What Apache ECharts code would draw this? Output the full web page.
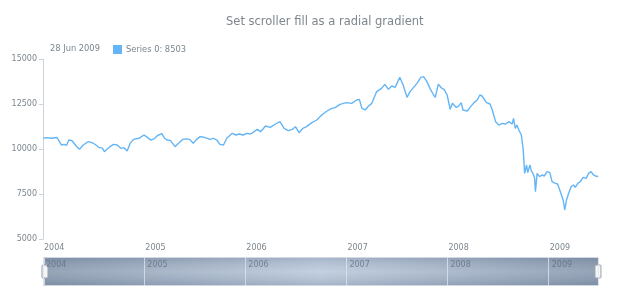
<!DOCTYPE html>
<html><head><meta charset="utf-8">
<script src="https://cdn.jsdelivr.net/npm/echarts@6/dist/echarts.min.js"></script>
<style>html,body{margin:0;padding:0;background:#fff}#c{width:620px;height:300px}</style>
</head><body><div id="c"></div>
<script>
var seriesName = 'Series 0';
var titleText = 'Set scroller fill as a radial gradient';
var yTicks = [5000, 7500, 10000, 12500, 15000];
var dates = [
'2004-01-02','2004-01-16','2004-01-30','2004-02-06','2004-02-20','2004-02-27','2004-03-08','2004-03-18','2004-03-26','2004-04-03',
'2004-04-15','2004-04-30','2004-05-12','2004-05-25','2004-06-13','2004-06-26','2004-07-08','2004-07-20','2004-08-02','2004-08-10',
'2004-08-20','2004-08-30','2004-09-12','2004-09-25','2004-10-08','2004-10-20','2004-10-31','2004-11-11','2004-11-23','2004-12-12',
'2004-12-31','2005-01-12','2005-01-24','2005-02-05','2005-02-18','2005-03-05','2005-03-15','2005-03-24','2005-04-05','2005-04-22',
'2005-04-30','2005-05-20','2005-06-05','2005-06-15','2005-06-27','2005-07-08','2005-07-22','2005-08-05','2005-08-15','2005-08-25',
'2005-09-08','2005-09-20','2005-10-01','2005-10-14','2005-10-26','2005-11-15','2005-11-28','2005-12-10','2005-12-24','2006-01-06',
'2006-01-20','2006-02-13','2006-02-25','2006-03-15','2006-04-01','2006-04-20','2006-05-06','2006-05-21','2006-06-05','2006-06-20',
'2006-07-01','2006-07-14','2006-07-28','2006-08-10','2006-08-29','2006-09-16','2006-10-04','2006-10-23','2006-11-09','2006-11-21',
'2006-12-09','2007-01-01','2007-01-20','2007-02-07','2007-02-17','2007-02-26','2007-03-10','2007-03-22','2007-04-03','2007-04-20',
'2007-05-08','2007-05-20','2007-06-02','2007-06-14','2007-06-26','2007-07-13','2007-07-25','2007-08-08','2007-08-19','2007-09-01',
'2007-09-13','2007-09-27','2007-10-07','2007-10-19','2007-10-30','2007-11-12','2007-11-18','2007-11-29','2007-12-12','2007-12-20',
'2007-12-31','2008-01-11','2008-01-19','2008-01-25','2008-02-01','2008-02-09','2008-02-20','2008-02-26','2008-03-13','2008-03-25',
'2008-04-06','2008-04-18','2008-04-27','2008-05-05','2008-05-11','2008-05-21','2008-06-03','2008-06-11','2008-06-23','2008-07-05',
'2008-07-17','2008-07-29','2008-08-10','2008-08-16','2008-08-22','2008-08-27','2008-09-02','2008-09-08','2008-09-15','2008-09-24',
'2008-10-01','2008-10-06','2008-10-13','2008-10-17','2008-10-25','2008-10-30','2008-11-06','2008-11-11','2008-11-14','2008-11-20',
'2008-11-29','2008-12-08','2008-12-16','2008-12-26','2009-01-05','2009-01-13','2009-01-25','2009-02-02','2009-02-12','2009-02-22',
'2009-02-28','2009-03-06','2009-03-14','2009-03-23','2009-04-01','2009-04-07','2009-04-16','2009-04-25','2009-05-05','2009-05-17',
'2009-05-25','2009-06-03','2009-06-12','2009-06-24','2009-06-28'
];
var values = [
10594,10630,10600,10685,10640,10594,10222,10260,10200,10500,
10460,10170,9981,10222,10407,10350,10250,10093,10050,9852,
10000,10130,10260,10222,10037,10074,9889,10315,10537,10594,
10778,10648,10500,10560,10750,10850,10600,10500,10480,10130,
10250,10537,10560,10520,10315,10520,10685,10650,10600,10537,
10594,10500,10260,10222,10594,10870,10778,10833,10778,10870,
10833,11093,10963,11278,11204,11389,11519,11148,11019,11093,
11241,10907,11150,11241,11463,11611,11889,12111,12259,12300,
12481,12574,12537,12722,12759,12259,12167,12389,12537,13185,
13370,13593,13315,13500,13426,13981,13556,12870,13185,13426,
13648,13981,14019,13741,13370,13000,12870,13593,13370,13315,
13000,12204,12537,12630,12315,12352,12574,12167,12111,12352,
12574,12722,13000,12944,12907,12574,12500,12167,11519,11333,
11426,11389,11519,11611,11389,11704,11148,11333,11056,10778,
9944,8648,9111,8685,9111,8796,8611,8370,7630,8648,
8463,8556,8500,8741,8685,8185,8093,8056,7630,7167,
6611,7167,7537,7907,8000,7870,8093,8185,8426,8370,
8648,8741,8556,8463,8503
];
var xMin = '2004-01-01';
var xMax = '2009-06-28';

var data = dates.map(function (d, i) { return [d, values[i]]; });
var lastVal = values[values.length - 1];
var months = ['Jan','Feb','Mar','Apr','May','Jun','Jul','Aug','Sep','Oct','Nov','Dec'];
var ld = dates[dates.length - 1].split('-');
var lastDateText = parseInt(ld[2], 10) + ' ' + months[parseInt(ld[1], 10) - 1] + ' ' + ld[0];

var FONT = 'DejaVu Sans';
var grey = '#7c868e';
var YEAR = 365 * 24 * 3600 * 1000;

var chart = echarts.init(document.getElementById('c'), null, {renderer: 'canvas'});
chart.setOption({
  animation: false,
  backgroundColor: '#fff',
  textStyle: {fontFamily: FONT},
  title: [
    {text: titleText, left: 221, top: 11,
     textStyle: {fontFamily: FONT, fontSize: 11.5, fontWeight: 'normal', color: grey}},
    {text: lastDateText, left: 45, top: 40,
     textStyle: {fontFamily: FONT, fontSize: 8.3, fontWeight: 'normal', color: grey}}
  ],
  legend: {
    left: 108, top: 40, icon: 'rect', itemWidth: 9, itemHeight: 9, itemGap: 4,
    data: [seriesName],
    formatter: function (n) { return n + ': ' + lastVal; },
    textStyle: {fontFamily: FONT, fontSize: 8.3, color: grey, padding: [0, 0, 0, -1]}
  },
  grid: [
    {left: 43, right: 22, top: 59, bottom: 61, containLabel: false},
    {left: 43, right: 22, top: 257, height: 29, show: true, borderWidth: 0, z: 0,
     backgroundColor: {type: 'linear', x: 0, y: 0, x2: 1, y2: 0, colorStops: [
       {offset: 0, color: '#8797ad'}, {offset: 0.5, color: '#bac9db'}, {offset: 1, color: '#8797ad'}]}}
  ],
  xAxis: [
    {type: 'time', gridIndex: 0, min: xMin, max: xMax, minInterval: YEAR, maxInterval: YEAR,
     axisLine: {show: false}, axisTick: {show: false}, splitLine: {show: false},
     axisLabel: {formatter: '{yyyy}', align: 'left', margin: 5, padding: [0, 0, 0, 1],
       fontFamily: FONT, fontSize: 8, color: grey, showMinLabel: true}},
    {type: 'time', gridIndex: 1, position: 'top', min: xMin, max: xMax, minInterval: YEAR, maxInterval: YEAR,
     z: 10,
     axisLine: {show: false}, axisTick: {show: false},
     splitLine: {show: true, lineStyle: {color: 'rgba(225,231,238,0.75)', width: 1}},
     axisLabel: {inside: true, formatter: '{yyyy}', align: 'left', verticalAlign: 'top', margin: 4,
       padding: [0, 0, 0, 3], fontFamily: FONT, fontSize: 8, color: 'rgba(95,110,130,0.75)'}}
  ],
  yAxis: [
    {type: 'value', gridIndex: 0, min: 5000, max: 15000, interval: 2500,
     axisLine: {show: true, lineStyle: {color: '#cfd3d7'}},
     axisTick: {show: true, length: 4, lineStyle: {color: '#cfd3d7'}},
     splitLine: {show: false},
     axisLabel: {margin: 6, fontFamily: FONT, fontSize: 8, color: grey,
       formatter: function (v) { return yTicks.indexOf(v) >= 0 ? String(v) : ''; }}},
    {type: 'value', gridIndex: 1, show: false}
  ],
  dataZoom: [{
    type: 'slider', xAxisIndex: [0], filterMode: 'none', start: 0, end: 100,
    left: 43, right: 22, top: 257, height: 29,
    showDetail: false, showDataShadow: false, brushSelect: false, moveHandleSize: 0,
    backgroundColor: 'rgba(0,0,0,0)',
    borderColor: '#d3d9e0', borderRadius: 0,
    fillerColor: {type: 'linear', x: 0, y: 0, x2: 0, y2: 1, colorStops: [
      {offset: 0, color: 'rgba(70,90,120,0.2)'}, {offset: 0.5, color: 'rgba(255,255,255,0.12)'},
      {offset: 1, color: 'rgba(70,90,120,0.2)'}]},
    handleIcon: 'path://M1,0h4a1,1,0,0,1,1,1v11a1,1,0,0,1,-1,1h-4a1,1,0,0,1,-1,-1v-11a1,1,0,0,1,1,-1z',
    handleSize: '45%',
    handleStyle: {color: '#f4f5f6', borderColor: '#98a1ab', borderWidth: 1},
    emphasis: {handleStyle: {color: '#f4f5f6', borderColor: '#98a1ab'}}
  }],
  series: [{
    name: seriesName, type: 'line', xAxisIndex: 0, yAxisIndex: 0,
    data: data, showSymbol: false, symbol: 'none',
    lineStyle: {color: '#64b5f6', width: 1.4},
    itemStyle: {color: '#64b5f6'}
  }]
});
</script>
</body></html>
